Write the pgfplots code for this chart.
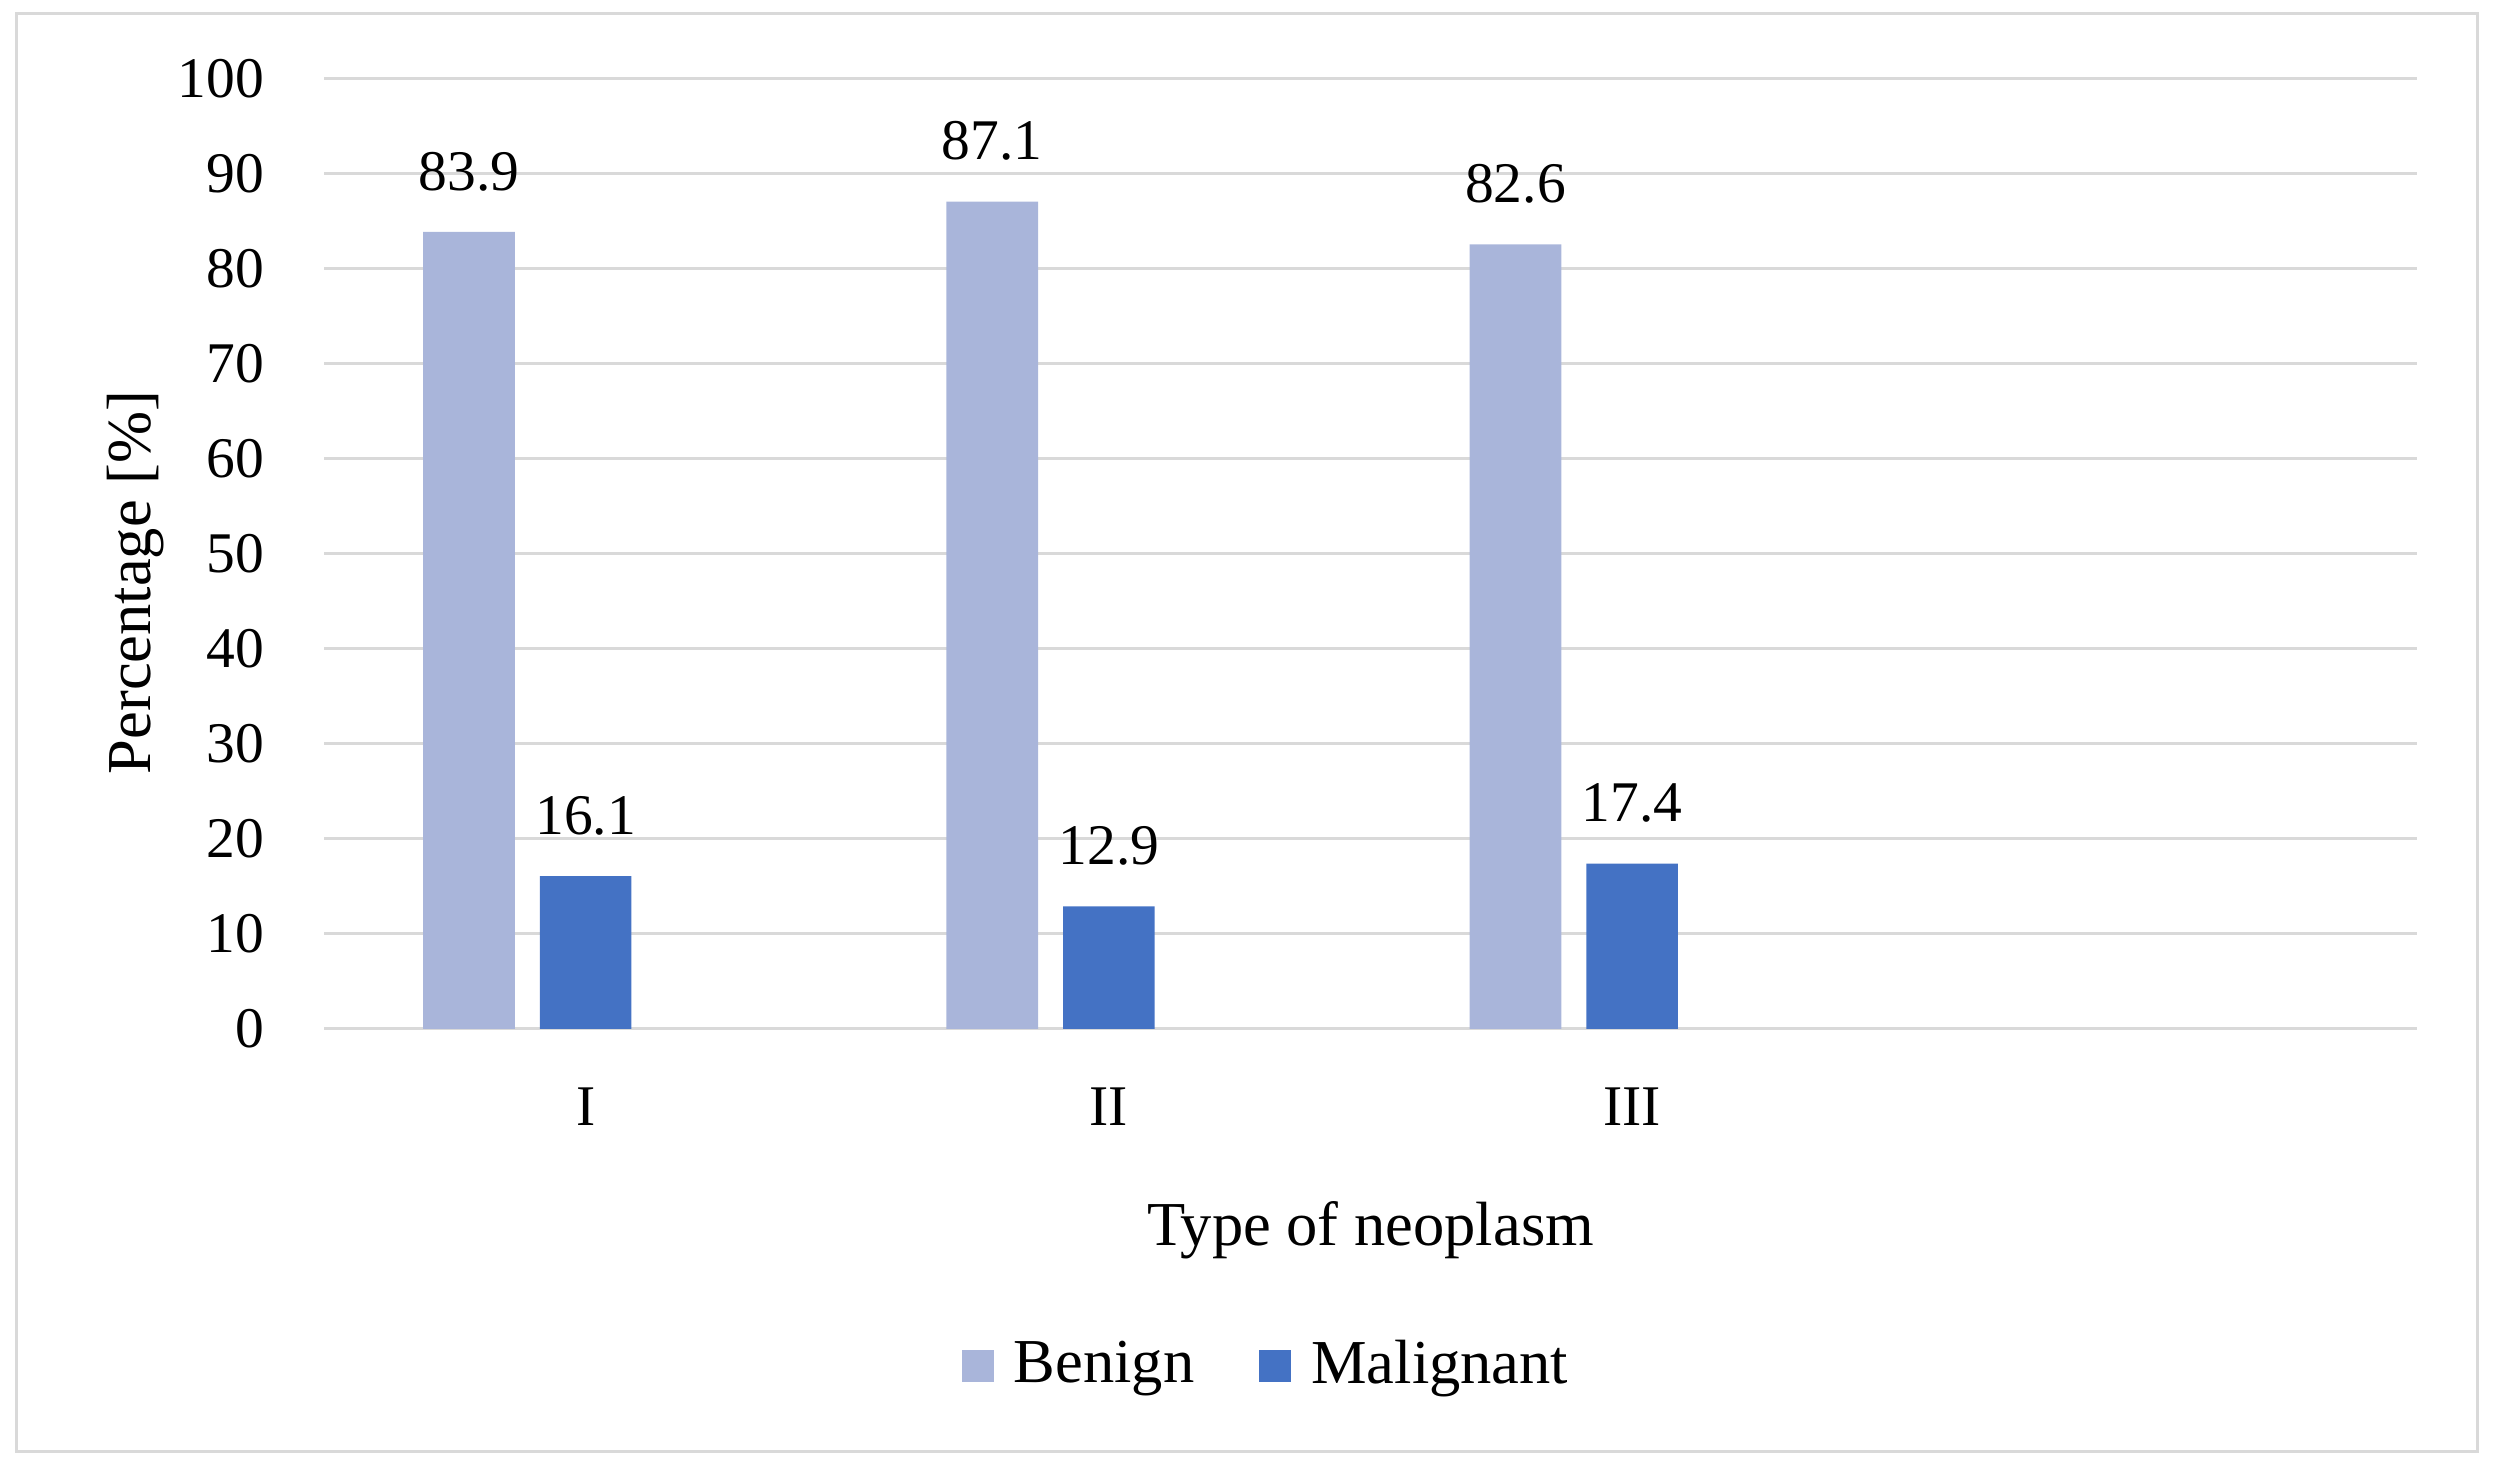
\documentclass[border=0pt]{standalone}
\usepackage{fontspec}
\setmainfont{Liberation Serif}
\usepackage{pgfplots}
\pgfplotsset{compat=1.18}
\definecolor{benign}{HTML}{A9B5DA}
\definecolor{malig}{HTML}{4472C4}
\definecolor{gridc}{HTML}{D9D9D9}
\begin{document}
\begin{tikzpicture}
\useasboundingbox (0,0) rectangle (500.6pt,294pt);
\draw[gridc, line width=0.6pt] (3.2pt,3.6pt) rectangle (495.4pt,291.2pt);
\begin{axis}[
 at={(64.8pt,88.2pt)}, anchor=south west,
 scale only axis, width=418.6pt, height=190pt,
 xmin=-0.5, xmax=3.5, ymin=0, ymax=100,
 ytick={0,10,...,100},
 xtick={0,1,2}, xticklabels={I,II,III},
 axis line style={draw=none},
 major tick length=0pt,
 ymajorgrids, grid style={gridc, line width=0.6pt},
 ybar, bar width=0.175, bar shift=0pt,
 /pgf/number format/assume math mode=true,
 ticklabel style={font=\fontsize{11.5}{13}\selectfont},
 yticklabel style={anchor=east, inner sep=0pt, xshift=-11.8pt},
 xticklabel style={anchor=center, inner sep=0pt, yshift=-15.6pt},
 xlabel={Type of neoplasm},
 xlabel style={at={(axis description cs:0.5,-0.2116)}, anchor=center, font=\fontsize{12.5}{14}\selectfont},
 ylabel={Percentage [\%]},
 ylabel style={at={(axis description cs:-0.0898,0.47)}, anchor=center, font=\fontsize{12.5}{14}\selectfont},
 nodes near coords={\pgfmathprintnumber[fixed,fixed zerofill,precision=1]{\pgfplotspointmeta}},
 every node near coord/.append style={font=\fontsize{11.5}{13}\selectfont, anchor=south, inner sep=0pt, yshift=8pt, text=black},
 legend style={at={(0.452,-0.3547)}, anchor=center, draw=none, legend columns=2,
   font=\fontsize{12.5}{14}\selectfont,
   /tikz/every odd column/.append style={column sep=2pt},
   /tikz/every even column/.append style={column sep=11pt}},
 legend image code/.code={\fill[#1] (0pt,-3.2pt) rectangle (6.4pt,3.2pt);},
]
\addplot[fill=benign, draw=none] coordinates {(-0.2229,83.9) (0.7771,87.1) (1.7771,82.6)};
\addlegendentry{Benign}
\addplot[fill=malig, draw=none] coordinates {(0,16.1) (1,12.9) (2,17.4)};
\addlegendentry{Malignant}
\end{axis}
\end{tikzpicture}
\end{document}
